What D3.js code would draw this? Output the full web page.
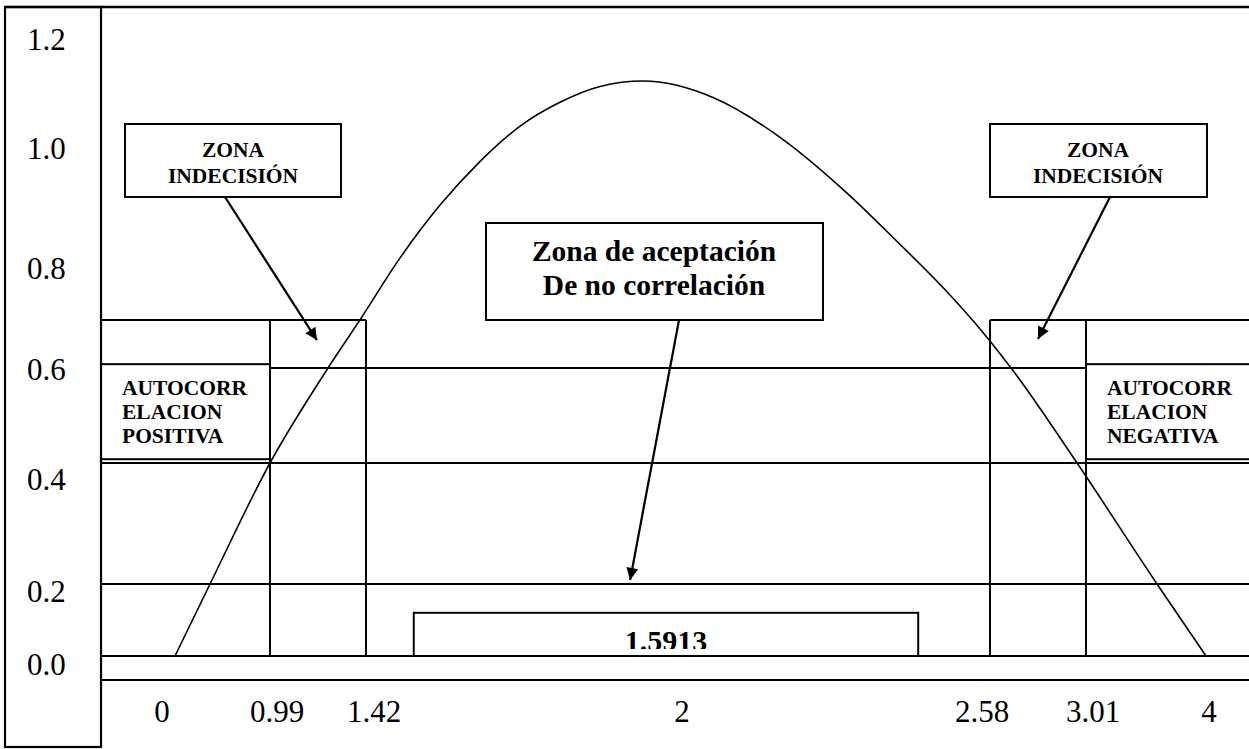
<!DOCTYPE html>
<html><head><meta charset="utf-8">
<script src="https://cdn.jsdelivr.net/npm/d3@7"></script>
<style>body{margin:0;background:#fff}svg{display:block}</style>
</head><body>
<svg id="c" width="1249" height="749"></svg>
<script>
// ---------- data ----------
const xTicks = [0, 0.99, 1.42, 2, 2.58, 3.01, 4];
const xTickLabels = ["0", "0.99", "1.42", "2", "2.58", "3.01", "4"];
const yTicks = [0, 0.2, 0.4, 0.6, 0.8, 1.0, 1.2];
const yTickLabels = ["0.0", "0.2", "0.4", "0.6", "0.8", "1.0", "1.2"];
const curveX = [0, 0.365, 0.99, 1.25, 1.393, 1.491, 1.575, 1.659, 1.742, 1.826, 1.91, 2, 2.117, 2.229, 2.341, 2.426, 2.505, 2.572, 2.692, 2.97, 3.596, 4];
const curveY = [0, 0.2, 0.4, 0.6, 0.688, 0.801, 0.898, 0.978, 1.042, 1.086, 1.115, 1.125, 1.095, 1.022, 0.92, 0.83, 0.743, 0.66, 0.589, 0.4, 0.2, 0];
const dL = 0.99, dU = 1.42;
const zoneTop = 0.688;
const autoBand = [0.408, 0.607];
const gridValues = [0, 0.2, 0.4];
const axisValue = -0.0667;
const dwStat = "1.5913";
const statRange = [1.52, 2.46];
const statTop = 0.12;
const zoneLabels = ["ZONA", "INDECISIÓN"];
const acceptLabels = ["Zona de aceptación", "De no correlación"];
const posLabels = ["AUTOCORR", "ELACION", "POSITIVA"];
const negLabels = ["AUTOCORR", "ELACION", "NEGATIVA"];

// ---------- layout ----------
const W = 1249, H = 749;
const plotLeft = 101, plotRight = 1249;
const serif = "'Liberation Serif','Times New Roman',serif";
const svg = d3.select("#c");

const x = d3.scaleLinear().domain([0, dL, dU, 2, 4 - dU, 4 - dL, 4])
  .range([175, 270, 366, 643, 990, 1086, 1206]);
const y = d3.scaleLinear().domain([0, 0.2, 0.4, 0.6, 1.2])
  .range([656, 584, 463, 368, 40]);
const xLab = d3.scaleOrdinal().domain(xTicks).range([162, 277, 374, 682, 982, 1093, 1209]);
const yLab = d3.scaleOrdinal().domain(yTicks).range([675, 602, 490, 380, 279, 159, 50]);

const ink = "#000";
const g = svg.append("g").attr("fill", "none").attr("stroke", ink);

// frame
g.append("path").attr("d", `M5,7H${W}`).attr("stroke-width", 2.6);
g.append("rect").attr("x", 5).attr("y", 7).attr("width", plotLeft - 5).attr("height", 740).attr("stroke-width", 2.2);

// full-width horizontal lines
g.selectAll(".grid").data(gridValues.concat([axisValue])).join("line")
  .attr("x1", plotLeft).attr("x2", plotRight)
  .attr("y1", d => y(d)).attr("y2", d => y(d)).attr("stroke-width", 2);

// 0.6 line between outer zone edges
g.append("line").attr("x1", x(dL)).attr("x2", x(4 - dL))
  .attr("y1", y(0.6)).attr("y2", y(0.6)).attr("stroke-width", 2);

// zone tops
g.append("line").attr("x1", plotLeft).attr("x2", x(dU)).attr("y1", y(zoneTop)).attr("y2", y(zoneTop)).attr("stroke-width", 2);
g.append("line").attr("x1", x(4 - dU)).attr("x2", plotRight).attr("y1", y(zoneTop)).attr("y2", y(zoneTop)).attr("stroke-width", 2);

// verticals at critical values
g.selectAll(".v").data([dL, dU, 4 - dU, 4 - dL]).join("line")
  .attr("x1", d => x(d)).attr("x2", d => x(d))
  .attr("y1", y(zoneTop)).attr("y2", y(0)).attr("stroke-width", 2);

// autocorrelation boxes
g.append("rect").attr("x", plotLeft).attr("y", y(autoBand[1]))
  .attr("width", x(dL) - plotLeft).attr("height", y(autoBand[0]) - y(autoBand[1])).attr("stroke-width", 2);
g.append("rect").attr("x", x(4 - dL)).attr("y", y(autoBand[1]))
  .attr("width", plotRight + 5 - x(4 - dL)).attr("height", y(autoBand[0]) - y(autoBand[1])).attr("stroke-width", 2);

// curve
const pts = curveX.map((v, i) => [v, curveY[i]]);
g.append("path").datum(pts)
  .attr("d", d3.line().x(d => x(d[0])).y(d => y(d[1])).curve(d3.curveMonotoneX))
  .attr("stroke-width", 1.6);

// stat box with clipped value
const sx0 = x(statRange[0]), sx1 = x(statRange[1]);
g.append("rect").attr("x", sx0).attr("y", y(statTop)).attr("width", sx1 - sx0).attr("height", y(0) - y(statTop))
  .attr("fill", "#fff").attr("stroke-width", 2);
svg.append("clipPath").attr("id", "clipStat").append("rect")
  .attr("x", sx0).attr("y", y(statTop)).attr("width", sx1 - sx0).attr("height", y(0) - y(statTop) - 7);
svg.append("text").attr("clip-path", "url(#clipStat)")
  .attr("x", (sx0 + sx1) / 2).attr("y", 651).attr("text-anchor", "middle")
  .attr("font-family", serif).attr("font-weight", "bold").attr("font-size", 30).text(dwStat);

// tick labels
svg.append("g").selectAll("text").data(xTicks).join("text")
  .attr("x", d => xLab(d)).attr("y", 722).attr("text-anchor", "middle")
  .attr("font-family", serif).attr("font-size", 31).text((d, i) => xTickLabels[i]);
svg.append("g").selectAll("text").data(yTicks).join("text")
  .attr("x", 27).attr("y", d => yLab(d)).attr("text-anchor", "start")
  .attr("font-family", serif).attr("font-size", 31).text((d, i) => yTickLabels[i]);

// text blocks
function block(lines, x0, ys, size, anchor) {
  const t = svg.append("g").attr("font-family", serif).attr("font-weight", "bold").attr("font-size", size).attr("text-anchor", anchor);
  t.selectAll("text").data(lines).join("text").attr("x", x0).attr("y", (d, i) => ys[i]).text(d => d);
}
block(posLabels, 122, [395, 419, 443], 21.5, "start");
block(negLabels, 1107, [395, 419, 443], 21.5, "start");

// annotation boxes
function box(x0, y0, x1, y1) {
  g.append("rect").attr("x", x0).attr("y", y0).attr("width", x1 - x0).attr("height", y1 - y0)
    .attr("fill", "#fff").attr("stroke-width", 2);
}
box(125, 124, 341, 197);
block(zoneLabels, 233, [157, 183], 21.5, "middle");
box(990, 124, 1207, 197);
block(zoneLabels, 1098, [157, 183], 21.5, "middle");
box(486, 223, 823, 320);
block(acceptLabels, 654, [261, 295], 29.5, "middle");

// arrows
svg.append("defs").append("marker").attr("id", "ah").attr("viewBox", "0 0 10 10")
  .attr("refX", 10).attr("refY", 5).attr("markerWidth", 16).attr("markerHeight", 12)
  .attr("markerUnits", "userSpaceOnUse").attr("orient", "auto")
  .append("path").attr("d", "M0,0L10,5L0,10Z").attr("fill", ink);
const arrows = [[225, 197, x(1.20), y(0.651)], [1110, 197, x(2.795), y(0.653)], [679, 320, x(1.973), y(0.2066)]];
g.selectAll(".arr").data(arrows).join("line")
  .attr("x1", d => d[0]).attr("y1", d => d[1]).attr("x2", d => d[2]).attr("y2", d => d[3])
  .attr("stroke-width", 2.2).attr("marker-end", "url(#ah)");
</script>
</body></html>
